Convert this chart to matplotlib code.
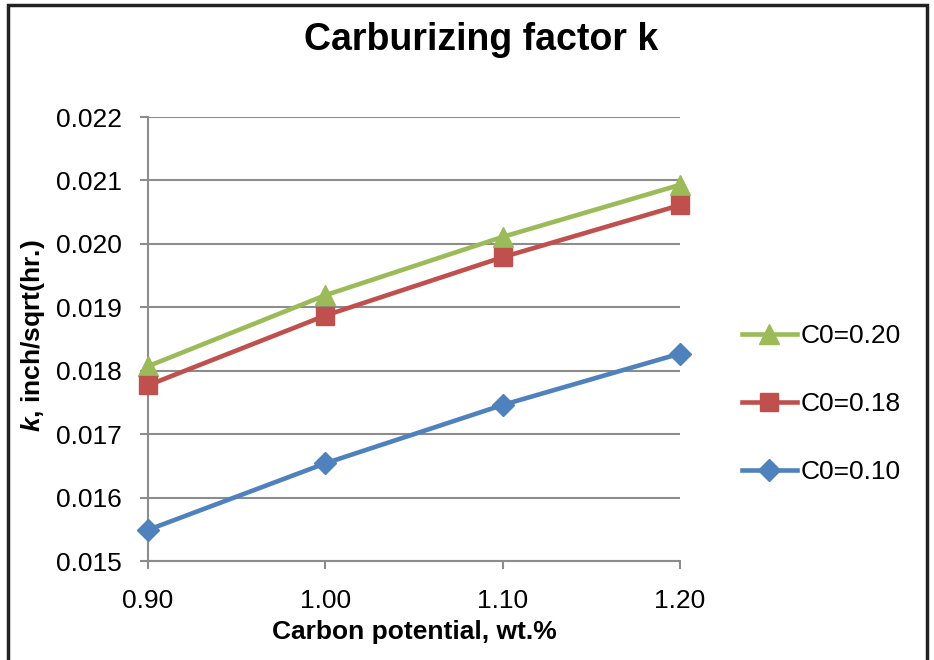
import matplotlib.pyplot as plt
from matplotlib.patches import Rectangle

plt.rcParams['font.family'] = ['Liberation Sans', 'DejaVu Sans']
plt.rcParams['mathtext.fontset'] = 'custom'
plt.rcParams['mathtext.bfit'] = 'Liberation Sans:italic:bold'

carbonPotential = [0.90, 1.00, 1.10, 1.20]
k_c020 = [0.01807, 0.01919, 0.02011, 0.02093]
k_c018 = [0.01777, 0.01887, 0.01979, 0.02061]
k_c010 = [0.01549, 0.01654, 0.01746, 0.01827]

seriesLabels = ['C0=0.20', 'C0=0.18', 'C0=0.10']
xTicks = [0.90, 1.00, 1.10, 1.20]
yTicks = [0.015, 0.016, 0.017, 0.018, 0.019, 0.020, 0.021, 0.022]

fig = plt.figure(figsize=(9.34, 6.6), dpi=100)
ax = fig.add_axes([148 / 934, 1 - 561 / 660, (680 - 148) / 934, (561 - 117) / 660])

ax.plot(carbonPotential, k_c020, color='#9BBB59', lw=3.3, marker='^', ms=14,
        label=seriesLabels[0], clip_on=False, zorder=3)
ax.plot(carbonPotential, k_c018, color='#C0504D', lw=3.3, marker='s', ms=13,
        label=seriesLabels[1], clip_on=False, zorder=4)
ax.plot(carbonPotential, k_c010, color='#4F81BD', lw=3.3, marker='D', ms=11,
        label=seriesLabels[2], clip_on=False, zorder=5)

ax.set_xlim(0.90, 1.20)
ax.set_ylim(0.015, 0.022)
ax.set_xticks(xTicks)
ax.set_xticklabels(['%.2f' % v for v in xTicks])
ax.set_yticks(yTicks)
ax.set_yticklabels(['%.3f' % v for v in yTicks])
ax.tick_params(axis='both', labelsize=19, color='#8c8c8c', length=6, width=1.5,
               direction='out')
ax.tick_params(axis='x', pad=14)
ax.tick_params(axis='y', pad=13)
ax.grid(axis='y', color='#8c8c8c', lw=1.5)
ax.set_axisbelow(True)
for side in ['top', 'right']:
    ax.spines[side].set_visible(False)
for side in ['left', 'bottom']:
    ax.spines[side].set_color('#8c8c8c')
    ax.spines[side].set_linewidth(1.5)

ax.set_xlabel('Carbon potential, wt.%', fontsize=19, fontweight='bold', labelpad=5)
ax.set_ylabel(r'$\mathbfit{k}$, inch/sqrt(hr.)', fontsize=19, fontweight='bold')
ax.yaxis.set_label_coords(-0.19, 0.507)
fig.text(481 / 934, 1 - 40 / 660, 'Carburizing factor k', fontsize=27,
         fontweight='bold', ha='center', va='center')

ax.legend(loc='center left', bbox_to_anchor=(742 / 934, 1 - 404 / 660),
          bbox_transform=fig.transFigure, frameon=False, fontsize=19,
          handlelength=2.08, handletextpad=0.15, labelspacing=1.67,
          borderpad=0, borderaxespad=0)

fig.patches.append(Rectangle((8 / 934, -0.05), (927 - 8) / 934, 1.05 - 5 / 660,
                             transform=fig.transFigure, fill=False,
                             edgecolor='#222222', lw=2.5))

fig.savefig('out.png', dpi=100)
